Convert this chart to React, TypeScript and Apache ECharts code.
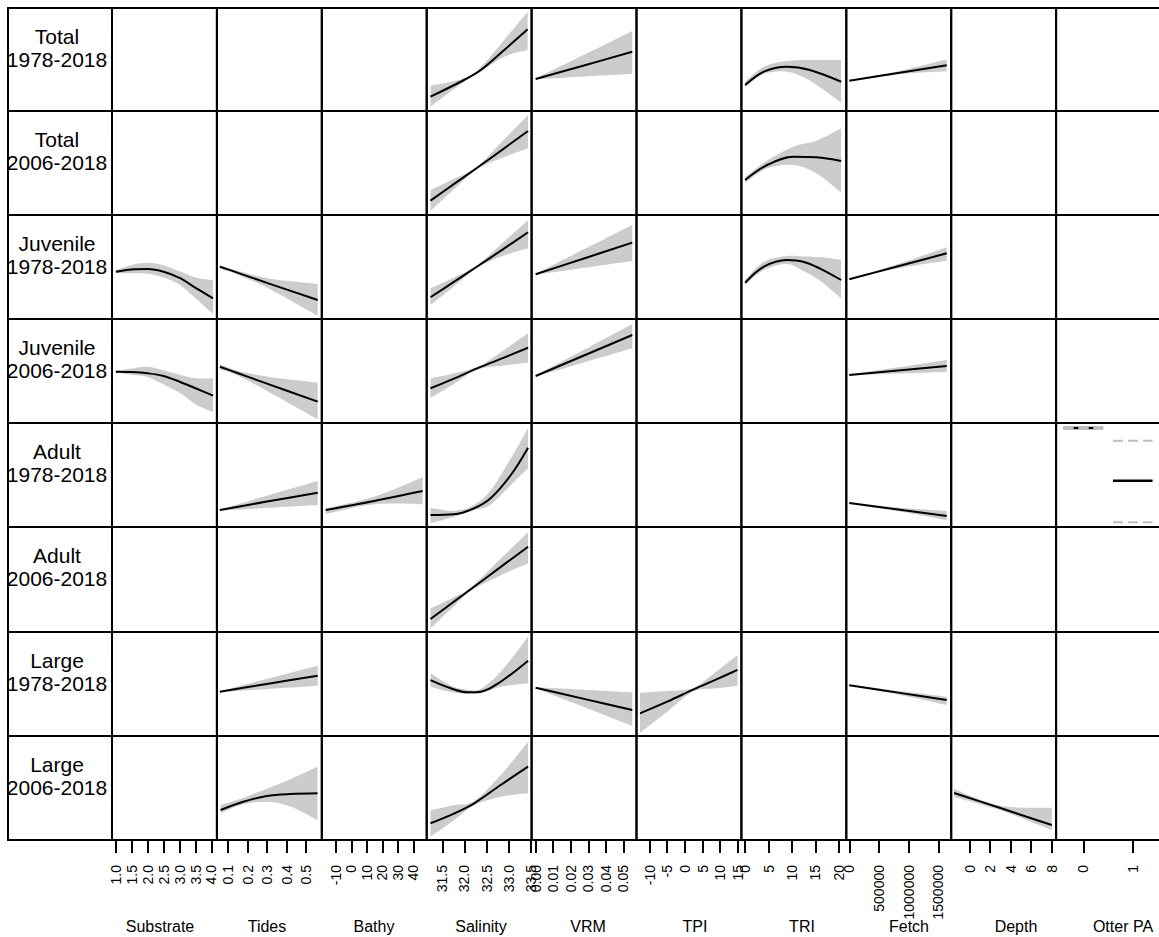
import React, { useEffect, useRef } from 'react';
import * as echarts from 'echarts';

const FONT = '"Liberation Sans", Arial, Helvetica, sans-serif';

// Response groups (rows) and covariates (columns)
const groupNames = ['Total', 'Total', 'Juvenile', 'Juvenile', 'Adult', 'Adult', 'Large', 'Large'];
const groupPeriods = ['1978-2018', '2006-2018', '1978-2018', '2006-2018', '1978-2018', '2006-2018', '1978-2018', '2006-2018'];
const covariates = ['Substrate', 'Tides', 'Bathy', 'Salinity', 'VRM', 'TPI', 'TRI', 'Fetch', 'Depth', 'Otter PA'];

// x-axis limits per covariate
const axisMin = [0.88, 0.042, -19, 31.144, -0.0023, -13.7, -0.8, -50000, -1.78, -0.55];
const axisMax = [4.17, 0.58, 48.6, 33.52, 0.0574, 16.0, 21.6, 1715000, 8.42, 1.57];

// tick values per covariate
const substrateTicks = [1.0, 1.5, 2.0, 2.5, 3.0, 3.5, 4.0];
const tidesTicks = [0.1, 0.2, 0.3, 0.4, 0.5];
const bathyTicks = [-10, 0, 10, 20, 30, 40];
const salinityTicks = [31.5, 32.0, 32.5, 33.0, 33.5];
const vrmTicks = [0.0, 0.01, 0.02, 0.03, 0.04, 0.05];
const tpiTicks = [-10, -5, 0, 5, 10, 15];
const triTicks = [0, 5, 10, 15, 20];
const fetchTicks = [0, 500000, 1000000, 1500000];
const depthTicks = [0, 2, 4, 6, 8];
const otterTicks = [0, 1];
const tickDecimals = [1, 1, 0, 1, 2, 0, 0, 0, 0, 0];

// Smooth-term estimates (partial effect on a 0–100 panel scale) with 95% bounds
const fetchX = [0, 820000, 1640000];
const vrmX = [0, 0.0275, 0.055];
const tidesX3 = [0.057, 0.306, 0.559];
const tidesX4 = [0.057, 0.15, 0.306, 0.559];
const substrateX = [1.0, 1.5, 2.0, 2.5, 3.0, 3.5, 4.05];

const total78SalinityX = [31.23, 31.99, 32.37, 32.9, 33.43];
const total78SalinityFit = [13.9, 30.1, 39.8, 59.2, 79.3];
const total78SalinityHi = [24.3, 31.7, 43, 69, 96.4];
const total78SalinityLo = [4.2, 28.4, 38, 52.7, 59.2];

const total78VrmFit = [31.1, 44.2, 57.6];
const total78VrmHi = [31.6, 54.5, 77.7];
const total78VrmLo = [30.6, 33.5, 35.9];

const total78TriX = [0, 4, 8.9, 13.8, 20.5];
const total78TriFit = [25.2, 38.2, 43, 39.8, 28.4];
const total78TriHi = [28.4, 43, 48.5, 49.5, 49.5];
const total78TriLo = [23, 35.9, 38.2, 29.6, 8.1];

const total78FetchFit = [29.4, 36.9, 44.4];
const total78FetchHi = [29.9, 38.5, 50.2];
const total78FetchLo = [28.9, 35.5, 38.5];

const total06SalinityX = [31.23, 31.75, 32.27, 32.86, 33.44];
const total06SalinityFit = [13.8, 29.4, 44.9, 62.9, 80.8];
const total06SalinityHi = [24, 34.5, 46, 71, 96.2];
const total06SalinityLo = [4.1, 24.3, 43.8, 55, 64.1];

const total06TriX = [0, 4.7, 10.3, 15.2, 20.5];
const total06TriFit = [33.7, 48.1, 56.1, 55.5, 51.9];
const total06TriHi = [36.3, 52.5, 65.7, 71.3, 83.4];
const total06TriLo = [31.1, 44.9, 48.1, 40.1, 21.4];

const juv78SubstrateFit = [45.5, 47.6, 48, 45.5, 39.5, 30, 19.9];
const juv78SubstrateHi = [47, 52, 54, 51.5, 46, 40, 37.5];
const juv78SubstrateLo = [44, 44, 43.5, 40, 33, 20, 4.8];

const juv78TidesFit = [50.3, 44.4, 34.3, 18.3];
const juv78TidesHi = [52, 46.4, 39, 33.7];
const juv78TidesLo = [48.7, 42.4, 29.5, 2.9];

const juv78SalinityX = [31.23, 31.75, 32.27, 32.86, 33.44];
const juv78SalinityFit = [20.9, 35.4, 50, 66.7, 83.4];
const juv78SalinityHi = [29.5, 39.7, 51.2, 73, 95.2];
const juv78SalinityLo = [13.5, 31, 48.8, 60.5, 68];

const juv78VrmFit = [43, 58.2, 73.4];
const juv78VrmHi = [43.5, 67, 90.4];
const juv78VrmLo = [42.5, 49.2, 55.8];

const juv78TriX = [0, 4, 8.9, 12.4, 16, 20.5];
const juv78TriFit = [34.9, 50.3, 56.7, 55.1, 48.5, 37.5];
const juv78TriHi = [37.5, 55, 60.6, 60.2, 59.5, 56.7];
const juv78TriLo = [32.7, 47.1, 52.9, 46.2, 36.8, 19.9];

const juv78FetchFit = [38.2, 50.7, 63.2];
const juv78FetchHi = [38.7, 52.8, 68.9];
const juv78FetchLo = [37.7, 48.8, 56.1];

const juv06SubstrateFit = [49.3, 49.0, 47.8, 45.2, 39.7, 33.4, 26.3];
const juv06SubstrateHi = [50.3, 52.5, 54, 50.5, 46.5, 43, 43];
const juv06SubstrateLo = [48.4, 46.5, 44.3, 37, 29, 18, 10.3];

const juv06TidesFit = [54.1, 47.9, 37.4, 20.5];
const juv06TidesHi = [56.4, 50.3, 44.5, 38.8];
const juv06TidesLo = [51.6, 45.5, 30.1, 3.6];

const juv06SalinityX = [31.23, 31.75, 32.3, 32.88, 33.44];
const juv06SalinityFit = [33.4, 42.5, 52.7, 62.6, 72.4];
const juv06SalinityHi = [43, 47.7, 54, 69.8, 86.2];
const juv06SalinityLo = [24.3, 37.3, 51.4, 55.4, 58];

const juv06VrmFit = [45.2, 64.9, 84.6];
const juv06VrmHi = [45.7, 70.4, 95.2];
const juv06VrmLo = [44.7, 58.2, 71.8];

const juv06FetchFit = [46.2, 50.5, 54.8];
const juv06FetchHi = [46.7, 53.5, 60.6];
const juv06FetchLo = [45.7, 47.5, 49];

const adult78TidesFit = [16.3, 24.7, 33];
const adult78TidesHi = [16.8, 30.5, 44.2];
const adult78TidesLo = [15.8, 18.5, 21.2];

const adult78BathyX = [-16.5, 14.7, 46];
const adult78BathyFit = [16.3, 25, 34.6];
const adult78BathyHi = [18, 29.1, 47.8];
const adult78BathyLo = [12.5, 21.8, 21.8];

const adult78SalinityX = [31.23, 31.76, 32.22, 32.59, 33.05, 33.44];
const adult78SalinityFit = [11.5, 12.2, 18, 27.6, 50, 76.3];
const adult78SalinityHi = [18.6, 15.4, 21.2, 35, 66, 95];
const adult78SalinityLo = [3.6, 9.9, 16.3, 21.5, 40.4, 56.4];

const adult78FetchFit = [23.1, 16.9, 10.6];
const adult78FetchHi = [23.6, 18.8, 15.4];
const adult78FetchLo = [22.6, 15.2, 6.7];

// Otter presence/absence is a factor term: one estimate per level
const otterLevels = [0, 1];
const otterFit = [95.2, 44.5];
const otterHi = [95.2, 83];
const otterLo = [95.2, 4.5];

const adult06SalinityX = [31.23, 31.76, 32.14, 32.8, 33.44];
const adult06SalinityFit = [12.4, 28.9, 40.7, 61.3, 81.2];
const adult06SalinityHi = [22.6, 33.2, 42.5, 69, 95];
const adult06SalinityLo = [3.5, 24.6, 39, 53.6, 65.4];

const large78TidesFit = [42.6, 50.3, 58];
const large78TidesHi = [43.1, 55.3, 67.6];
const large78TidesLo = [42.1, 45.3, 48.4];

const large78SalinityX = [31.23, 31.69, 32.07, 32.37, 32.82, 33.44];
const large78SalinityFit = [53.8, 45.9, 42, 42.6, 52.2, 72.4];
const large78SalinityHi = [60.3, 48.5, 44.5, 45.5, 61.8, 95.5];
const large78SalinityLo = [47.4, 42.2, 40.5, 41.1, 47.4, 50.7];

const large78VrmFit = [46.4, 35.7, 25];
const large78VrmHi = [46.9, 44.5, 42];
const large78VrmLo = [45.9, 27.8, 9.6];

const large78TpiX = [-12.7, -5, 2.5, 9.1, 14.9];
const large78TpiFit = [21.8, 33, 44.8, 54.7, 63.5];
const large78TpiHi = [41.6, 43.3, 46.5, 62.5, 77.9];
const large78TpiLo = [3.2, 23.4, 43, 45.8, 48.4];

const large78FetchFit = [48.8, 41.7, 34.6];
const large78FetchHi = [49.3, 43.5, 37.8];
const large78FetchLo = [48.3, 40, 29.8];

const large06TidesX = [0.061, 0.177, 0.298, 0.418, 0.558];
const large06TidesFit = [28.8, 36.8, 42.3, 44.2, 44.9];
const large06TidesHi = [33.7, 40.5, 49.3, 58.4, 70.5];
const large06TidesLo = [25.7, 34.3, 36.8, 32.3, 19.2];

const large06SalinityX = [31.23, 31.76, 32.22, 32.82, 33.44];
const large06SalinityFit = [16.1, 25.4, 35.3, 52.9, 70.5];
const large06SalinityHi = [28.8, 33.5, 37.5, 62.5, 94.5];
const large06SalinityLo = [3.2, 19, 33.5, 41.5, 44.9];

const large06DepthX = [-1.5, 3, 8];
const large06DepthFit = [45.2, 30.7, 14.4];
const large06DepthHi = [49, 33, 31];
const large06DepthLo = [41.3, 28.5, 9.6];

type Term = { row: number; col: number; x: number[]; fit: number[]; hi: number[]; lo: number[] };

const terms: Term[] = [
  { row: 0, col: 3, x: total78SalinityX, fit: total78SalinityFit, hi: total78SalinityHi, lo: total78SalinityLo },
  { row: 0, col: 4, x: vrmX, fit: total78VrmFit, hi: total78VrmHi, lo: total78VrmLo },
  { row: 0, col: 6, x: total78TriX, fit: total78TriFit, hi: total78TriHi, lo: total78TriLo },
  { row: 0, col: 7, x: fetchX, fit: total78FetchFit, hi: total78FetchHi, lo: total78FetchLo },
  { row: 1, col: 3, x: total06SalinityX, fit: total06SalinityFit, hi: total06SalinityHi, lo: total06SalinityLo },
  { row: 1, col: 6, x: total06TriX, fit: total06TriFit, hi: total06TriHi, lo: total06TriLo },
  { row: 2, col: 0, x: substrateX, fit: juv78SubstrateFit, hi: juv78SubstrateHi, lo: juv78SubstrateLo },
  { row: 2, col: 1, x: tidesX4, fit: juv78TidesFit, hi: juv78TidesHi, lo: juv78TidesLo },
  { row: 2, col: 3, x: juv78SalinityX, fit: juv78SalinityFit, hi: juv78SalinityHi, lo: juv78SalinityLo },
  { row: 2, col: 4, x: vrmX, fit: juv78VrmFit, hi: juv78VrmHi, lo: juv78VrmLo },
  { row: 2, col: 6, x: juv78TriX, fit: juv78TriFit, hi: juv78TriHi, lo: juv78TriLo },
  { row: 2, col: 7, x: fetchX, fit: juv78FetchFit, hi: juv78FetchHi, lo: juv78FetchLo },
  { row: 3, col: 0, x: substrateX, fit: juv06SubstrateFit, hi: juv06SubstrateHi, lo: juv06SubstrateLo },
  { row: 3, col: 1, x: tidesX4, fit: juv06TidesFit, hi: juv06TidesHi, lo: juv06TidesLo },
  { row: 3, col: 3, x: juv06SalinityX, fit: juv06SalinityFit, hi: juv06SalinityHi, lo: juv06SalinityLo },
  { row: 3, col: 4, x: vrmX, fit: juv06VrmFit, hi: juv06VrmHi, lo: juv06VrmLo },
  { row: 3, col: 7, x: fetchX, fit: juv06FetchFit, hi: juv06FetchHi, lo: juv06FetchLo },
  { row: 4, col: 1, x: tidesX3, fit: adult78TidesFit, hi: adult78TidesHi, lo: adult78TidesLo },
  { row: 4, col: 2, x: adult78BathyX, fit: adult78BathyFit, hi: adult78BathyHi, lo: adult78BathyLo },
  { row: 4, col: 3, x: adult78SalinityX, fit: adult78SalinityFit, hi: adult78SalinityHi, lo: adult78SalinityLo },
  { row: 4, col: 7, x: fetchX, fit: adult78FetchFit, hi: adult78FetchHi, lo: adult78FetchLo },
  { row: 5, col: 3, x: adult06SalinityX, fit: adult06SalinityFit, hi: adult06SalinityHi, lo: adult06SalinityLo },
  { row: 6, col: 1, x: tidesX3, fit: large78TidesFit, hi: large78TidesHi, lo: large78TidesLo },
  { row: 6, col: 3, x: large78SalinityX, fit: large78SalinityFit, hi: large78SalinityHi, lo: large78SalinityLo },
  { row: 6, col: 4, x: vrmX, fit: large78VrmFit, hi: large78VrmHi, lo: large78VrmLo },
  { row: 6, col: 5, x: large78TpiX, fit: large78TpiFit, hi: large78TpiHi, lo: large78TpiLo },
  { row: 6, col: 7, x: fetchX, fit: large78FetchFit, hi: large78FetchHi, lo: large78FetchLo },
  { row: 7, col: 1, x: large06TidesX, fit: large06TidesFit, hi: large06TidesHi, lo: large06TidesLo },
  { row: 7, col: 3, x: large06SalinityX, fit: large06SalinityFit, hi: large06SalinityHi, lo: large06SalinityLo },
  { row: 7, col: 8, x: large06DepthX, fit: large06DepthFit, hi: large06DepthHi, lo: large06DepthLo },
];

const columnTicks = [substrateTicks, tidesTicks, bathyTicks, salinityTicks, vrmTicks, tpiTicks, triTicks, fetchTicks, depthTicks, otterTicks];

// Panel layout
const ROW_EDGES = [8, 111, 215, 319, 423, 527, 632, 736, 840];
const LABEL_LEFT = 8;
const PANEL_LEFT = 112;
const PANEL_W = 104.9;
const OTTER_ROW = 4;
const OTTER_COL = 9;
const OTTER_HALF = 0.4;

// Catmull-Rom spline through screen points, as SVG path commands
function spline(pts: number[][], move: boolean): string {
  let d = `${move ? 'M' : 'L'}${pts[0][0]},${pts[0][1]}`;
  for (let i = 0; i < pts.length - 1; i++) {
    const p0 = pts[i - 1] || pts[i];
    const p1 = pts[i];
    const p2 = pts[i + 1];
    const p3 = pts[i + 2] || p2;
    const c1x = p1[0] + (p2[0] - p0[0]) / 6;
    const c1y = p1[1] + (p2[1] - p0[1]) / 6;
    const c2x = p2[0] - (p3[0] - p1[0]) / 6;
    const c2y = p2[1] - (p3[1] - p1[1]) / 6;
    d += ` C${c1x},${c1y} ${c2x},${c2y} ${p2[0]},${p2[1]}`;
  }
  return d;
}

function buildOption() {
  const grid: any[] = [];
  const xAxis: any[] = [];
  const yAxis: any[] = [];
  const series: any[] = [];
  const graphic: any[] = [];

  for (let r = 0; r < 8; r++) {
    for (let c = 0; c < 10; c++) {
      const k = r * 10 + c;
      grid.push({
        left: PANEL_LEFT + c * PANEL_W,
        top: ROW_EDGES[r],
        width: PANEL_W,
        height: ROW_EDGES[r + 1] - ROW_EDGES[r],
        show: true,
        borderColor: '#000',
        borderWidth: 2,
        backgroundColor: 'transparent',
        containLabel: false,
        outerBoundsMode: 'none',
      });
      const dec = tickDecimals[c];
      xAxis.push({
        gridIndex: k,
        type: 'value',
        min: axisMin[c],
        max: axisMax[c],
        show: r === 7,
        axisLine: { show: false },
        splitLine: { show: false },
        axisTick: {
          show: true,
          inside: false,
          length: 13,
          lineStyle: { color: '#000', width: 2 },
          customValues: columnTicks[c],
        },
        axisLabel: {
          show: true,
          rotate: 90,
          margin: 25,
          customValues: columnTicks[c],
          formatter: (v: number) => Number(v).toFixed(dec),
          fontFamily: FONT,
          fontSize: 14,
          color: '#000',
        },
      });
      yAxis.push({ gridIndex: k, type: 'value', min: 0, max: 100, show: false });
    }
  }

  terms.forEach((t) => {
    const k = t.row * 10 + t.col;
    series.push({
      type: 'custom',
      coordinateSystem: 'cartesian2d',
      xAxisIndex: k,
      yAxisIndex: k,
      clip: true,
      silent: true,
      z: 1,
      data: t.x.map((v, i) => [v, t.lo[i], t.hi[i]]),
      encode: { x: 0, y: [1, 2] },
      renderItem: (params: any, api: any) => {
        if (params.dataIndex !== 0) return null;
        const upper = t.x.map((v, i) => api.coord([v, t.hi[i]]));
        const lower = t.x.map((v, i) => api.coord([v, t.lo[i]])).reverse();
        return {
          type: 'path',
          shape: { pathData: spline(upper, true) + ' ' + spline(lower, false) + ' Z' },
          style: { fill: '#cccccc', stroke: null },
        };
      },
    });
    series.push({
      type: 'line',
      xAxisIndex: k,
      yAxisIndex: k,
      data: t.x.map((v, i) => [v, t.fit[i]]),
      smooth: 0.35,
      showSymbol: false,
      symbol: 'none',
      silent: true,
      z: 3,
      lineStyle: { color: '#000', width: 2 },
    });
  });

  // Factor term: level estimates with dashed confidence bounds
  const ko = OTTER_ROW * 10 + OTTER_COL;
  otterLevels.forEach((lv, i) => {
    const xs = [lv - OTTER_HALF, lv + OTTER_HALF];
    series.push({
      type: 'line',
      xAxisIndex: ko,
      yAxisIndex: ko,
      data: xs.map((x) => [x, otterFit[i]]),
      showSymbol: false,
      symbol: 'none',
      silent: true,
      z: 3,
      lineStyle: { color: '#000', width: 2.5 },
    });
    [otterHi[i], otterLo[i]].forEach((b) => {
      series.push({
        type: 'line',
        xAxisIndex: ko,
        yAxisIndex: ko,
        data: xs.map((x) => [x, b]),
        showSymbol: false,
        symbol: 'none',
        silent: true,
        z: 4,
        lineStyle: { color: '#bdbdbd', width: 2, type: [10, 5] },
      });
    });
  });

  // Row label cells
  for (let r = 0; r < 8; r++) {
    const top = ROW_EDGES[r];
    const h = ROW_EDGES[r + 1] - top;
    graphic.push({
      type: 'rect',
      shape: { x: LABEL_LEFT, y: top, width: PANEL_LEFT - LABEL_LEFT, height: h },
      style: { fill: 'none', stroke: '#000', lineWidth: 2 },
      silent: true,
    });
    graphic.push({
      type: 'text',
      x: 57,
      y: top + 28.5,
      style: { text: groupNames[r], font: `21px ${FONT}`, fill: '#000', align: 'center', verticalAlign: 'middle' },
      silent: true,
    });
    graphic.push({
      type: 'text',
      x: 57,
      y: top + 51.5,
      style: { text: groupPeriods[r], font: `21px ${FONT}`, fill: '#000', align: 'center', verticalAlign: 'middle' },
      silent: true,
    });
  }

  // Covariate names under the axes
  covariates.forEach((name, c) => {
    graphic.push({
      type: 'text',
      x: 160 + 107 * c,
      y: 926,
      style: { text: name, font: `16px ${FONT}`, fill: '#000', align: 'center', verticalAlign: 'middle' },
      silent: true,
    });
  });

  return {
    animation: false,
    backgroundColor: '#ffffff',
    grid,
    xAxis,
    yAxis,
    series,
    graphic,
  };
}

export default function App() {
  const ref = useRef<HTMLDivElement>(null);
  useEffect(() => {
    document.body.style.margin = '0';
    const chart = echarts.init(ref.current as HTMLDivElement, undefined, { renderer: 'svg' });
    chart.setOption(buildOption());
    return () => {
      chart.dispose();
    };
  }, []);
  return <div ref={ref} style={{ width: 1159, height: 937 }} />;
}
